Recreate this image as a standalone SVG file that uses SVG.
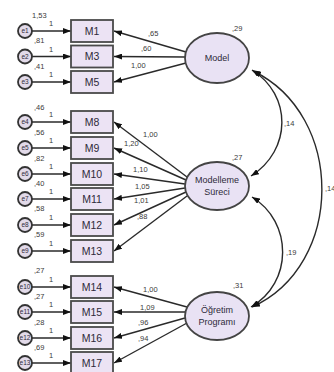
<svg xmlns="http://www.w3.org/2000/svg" width="334" height="372" viewBox="0 0 334 372">
<defs>
<marker id="ah" viewBox="0 0 10 10" refX="10" refY="5" markerWidth="8" markerHeight="6" markerUnits="userSpaceOnUse" orient="auto-start-reverse" preserveAspectRatio="none">
<path d="M0,0 L10,5 L0,10 Z" fill="#111"/>
</marker>
<style>
.box{fill:#ece3f4;stroke:#4a4a4a;stroke-width:1.8}
.err{fill:#e2dae9;stroke:#333;stroke-width:1.8}
.lat{fill:#e9e2f4;stroke:#444;stroke-width:1.8}
.bt{font-family:"Liberation Sans",Arial,sans-serif;font-size:10.5px;fill:#2e2a3a;text-anchor:middle}
.et{font-family:"Liberation Sans",Arial,sans-serif;font-size:6.5px;fill:#2e2a3a;text-anchor:middle}
.lt{font-family:"Liberation Sans",Arial,sans-serif;font-size:9px;fill:#2e2a3a;text-anchor:middle}
.n{font-family:"Liberation Sans",Arial,sans-serif;font-size:7.5px;fill:#3a3a3a}
.c{fill:none;stroke:#2a2a2a;stroke-width:1.4;marker-end:url(#ah)}
.cv{fill:none;stroke:#2a2a2a;stroke-width:1.4;marker-start:url(#ah);marker-end:url(#ah)}
</style>
</defs>

<g id="connectors">
<path class="c" d="M32,31 L71,31"/>
<path class="c" d="M32,56.5 L71,56.5"/>
<path class="c" d="M32,82 L71,82"/>
<path class="c" d="M32,122 L71,122"/>
<path class="c" d="M32,148 L71,148"/>
<path class="c" d="M32,174 L71,174"/>
<path class="c" d="M32,199 L71,199"/>
<path class="c" d="M32,225 L71,225"/>
<path class="c" d="M32,251 L71,251"/>
<path class="c" d="M32,287 L71,287"/>
<path class="c" d="M32,312 L71,312"/>
<path class="c" d="M32,338 L71,338"/>
<path class="c" d="M32,363 L71,363"/>
<path class="c" d="M186,52 L114,31"/>
<path class="c" d="M185,57 L114,56.5"/>
<path class="c" d="M186,63 L114,82"/>
<path class="c" d="M187,177 L114,122"/>
<path class="c" d="M186,180 L114,148"/>
<path class="c" d="M185,184 L114,174"/>
<path class="c" d="M185,188 L114,199"/>
<path class="c" d="M186,192 L114,225"/>
<path class="c" d="M187,196 L114,251"/>
<path class="c" d="M187,307 L114,287"/>
<path class="c" d="M185,312 L114,312"/>
<path class="c" d="M185,318 L114,338"/>
<path class="c" d="M187,323 L114,363"/>
<path class="cv" d="M252,70 C292,95 292,150 251,176"/>
<path class="cv" d="M252,197 C293,222 293,283 251,307"/>
<path class="cv" d="M253,71 C345,115 345,265 252,307"/>
</g>

<g id="labels">
<text class="n" x="32" y="18">1,53</text>
<text class="n" x="34" y="43">,81</text>
<text class="n" x="34" y="69">,41</text>
<text class="n" x="34" y="110">,46</text>
<text class="n" x="34" y="135">,56</text>
<text class="n" x="34" y="161">,82</text>
<text class="n" x="34" y="186">,40</text>
<text class="n" x="34" y="211">,58</text>
<text class="n" x="34" y="237">,59</text>
<text class="n" x="34" y="273">,27</text>
<text class="n" x="34" y="299">,27</text>
<text class="n" x="34" y="325">,28</text>
<text class="n" x="34" y="350">,69</text>
<g class="n">
<text x="49" y="26">1</text><text x="49" y="51.5">1</text><text x="49" y="77">1</text>
<text x="49" y="117">1</text><text x="49" y="143">1</text><text x="49" y="169">1</text>
<text x="49" y="194">1</text><text x="49" y="220">1</text><text x="49" y="246">1</text>
<text x="49" y="282">1</text><text x="49" y="307">1</text><text x="49" y="333">1</text>
<text x="49" y="358">1</text>
</g>
<text class="n" x="148" y="36">,65</text>
<text class="n" x="141" y="51">,60</text>
<text class="n" x="131" y="68">1,00</text>
<text class="n" x="143" y="137">1,00</text>
<text class="n" x="124" y="146">1,20</text>
<text class="n" x="133" y="172">1,10</text>
<text class="n" x="135" y="189">1,05</text>
<text class="n" x="134" y="203">1,01</text>
<text class="n" x="137" y="219">,88</text>
<text class="n" x="143" y="292">1,00</text>
<text class="n" x="140" y="310">1,09</text>
<text class="n" x="138" y="325">,96</text>
<text class="n" x="138" y="341">,94</text>
<text class="n" x="232" y="31">,29</text>
<text class="n" x="232" y="160">,27</text>
<text class="n" x="233" y="288">,31</text>
<text class="n" x="284" y="126">,14</text>
<text class="n" x="286" y="255">,19</text>
<text class="n" x="325" y="191">,14</text>
</g>

<g id="e1"><circle class="err" cx="25" cy="31" r="7"/><text class="et" x="25" y="33.3">e1</text></g>
<g id="e2"><circle class="err" cx="25" cy="56.5" r="7"/><text class="et" x="25" y="58.8">e2</text></g>
<g id="e3"><circle class="err" cx="25" cy="82" r="7"/><text class="et" x="25" y="84.3">e3</text></g>
<g id="e4"><circle class="err" cx="25" cy="122" r="7"/><text class="et" x="25" y="124.3">e4</text></g>
<g id="e5"><circle class="err" cx="25" cy="148" r="7"/><text class="et" x="25" y="150.3">e5</text></g>
<g id="e6"><circle class="err" cx="25" cy="174" r="7"/><text class="et" x="25" y="176.3">e6</text></g>
<g id="e7"><circle class="err" cx="25" cy="199" r="7"/><text class="et" x="25" y="201.3">e7</text></g>
<g id="e8"><circle class="err" cx="25" cy="225" r="7"/><text class="et" x="25" y="227.3">e8</text></g>
<g id="e9"><circle class="err" cx="25" cy="251" r="7"/><text class="et" x="25" y="253.3">e9</text></g>
<g id="e10"><circle class="err" cx="25" cy="287" r="7"/><text class="et" x="25" y="289.3">e10</text></g>
<g id="e11"><circle class="err" cx="25" cy="312" r="7"/><text class="et" x="25" y="314.3">e11</text></g>
<g id="e12"><circle class="err" cx="25" cy="338" r="7"/><text class="et" x="25" y="340.3">e12</text></g>
<g id="e13"><circle class="err" cx="25" cy="363" r="7"/><text class="et" x="25" y="365.3">e13</text></g>

<g id="M1"><rect class="box" x="71" y="20" width="42" height="22"/><text class="bt" x="92" y="34.8">M1</text></g>
<g id="M3"><rect class="box" x="71" y="45.5" width="42" height="22"/><text class="bt" x="92" y="60.3">M3</text></g>
<g id="M5"><rect class="box" x="71" y="71" width="42" height="22"/><text class="bt" x="92" y="85.8">M5</text></g>
<g id="M8"><rect class="box" x="71" y="111" width="42" height="22"/><text class="bt" x="92" y="125.8">M8</text></g>
<g id="M9"><rect class="box" x="71" y="137" width="42" height="22"/><text class="bt" x="92" y="151.8">M9</text></g>
<g id="M10"><rect class="box" x="71" y="163" width="42" height="22"/><text class="bt" x="92" y="177.8">M10</text></g>
<g id="M11"><rect class="box" x="71" y="188" width="42" height="22"/><text class="bt" x="92" y="202.8">M11</text></g>
<g id="M12"><rect class="box" x="71" y="214" width="42" height="22"/><text class="bt" x="92" y="228.8">M12</text></g>
<g id="M13"><rect class="box" x="71" y="240" width="42" height="22"/><text class="bt" x="92" y="254.8">M13</text></g>
<g id="M14"><rect class="box" x="71" y="276" width="42" height="22"/><text class="bt" x="92" y="290.8">M14</text></g>
<g id="M15"><rect class="box" x="71" y="301" width="42" height="22"/><text class="bt" x="92" y="315.8">M15</text></g>
<g id="M16"><rect class="box" x="71" y="327" width="42" height="22"/><text class="bt" x="92" y="341.8">M16</text></g>
<g id="M17"><rect class="box" x="71" y="352" width="42" height="22"/><text class="bt" x="92" y="366.8">M17</text></g>

<g id="Model"><ellipse class="lat" cx="217" cy="58" rx="32" ry="25"/><text class="lt" x="217" y="61">Model</text></g>
<g id="ModellemeSureci"><ellipse class="lat" cx="217" cy="186" rx="32" ry="24"/><text class="lt" x="217" y="183">Modelleme</text><text class="lt" x="217" y="195">Süreci</text></g>
<g id="OgretimProgrami"><ellipse class="lat" cx="217" cy="316" rx="32" ry="24"/><text class="lt" x="217" y="313">Öğretim</text><text class="lt" x="217" y="325">Programı</text></g>
</svg>
